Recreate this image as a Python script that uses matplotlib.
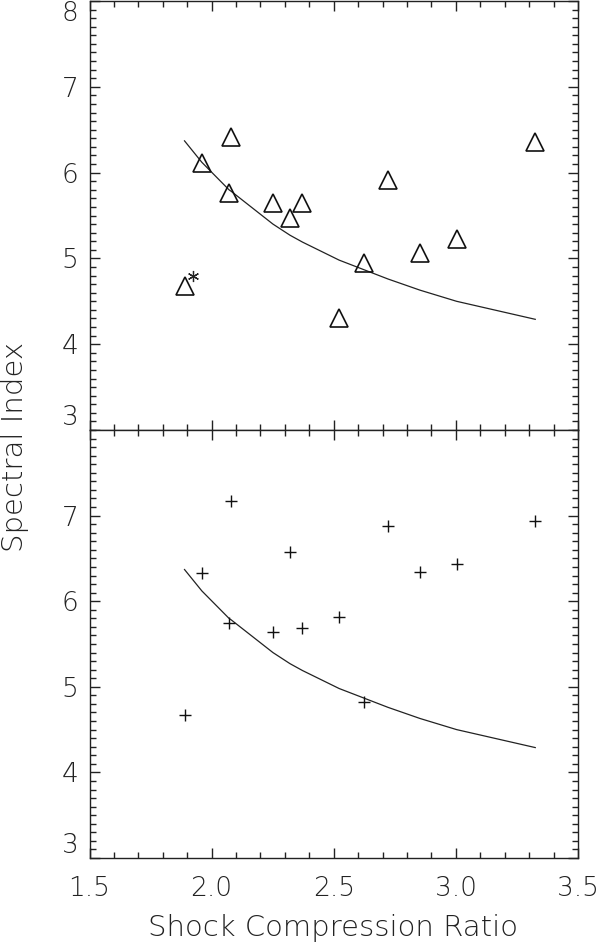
import matplotlib
matplotlib.use("Agg")
import matplotlib.pyplot as plt
from matplotlib.ticker import MultipleLocator

# Data
ratio = [1.889, 1.960, 2.081, 2.071, 2.251, 2.321, 2.372, 2.522, 2.622, 2.722, 2.853, 3.003, 3.325]
index_top = [4.68, 6.11, 6.42, 5.76, 5.65, 5.47, 5.65, 4.30, 4.95, 5.91, 5.06, 5.23, 6.36]
index_bottom = [4.67, 6.33, 7.17, 5.75, 5.64, 6.58, 5.69, 5.82, 4.82, 6.88, 6.34, 6.43, 6.94]

curve_x = [1.889, 1.960, 2.071, 2.081, 2.251, 2.321, 2.372, 2.522, 2.622, 2.722, 2.853, 3.003, 3.325]
curve_y = [6.37, 6.12, 5.80, 5.78, 5.40, 5.27, 5.19, 4.98, 4.87, 4.76, 4.63, 4.50, 4.29]

star_x, star_y = 1.925, 4.80

x_ticks = [1.5, 2.0, 2.5, 3.0, 3.5]
x_ticklabels = ["1.5", "2.0", "2.5", "3.0", "3.5"]
y_ticks_top = [3, 4, 5, 6, 7, 8]
y_ticks_bottom = [3, 4, 5, 6, 7]

plt.rcParams['font.family'] = ['DejaVu Sans']
plt.rcParams['font.weight'] = 'light'
plt.rcParams['axes.labelweight'] = 'light'
FS = 19
TXT = '#222222'

fig = plt.figure(figsize=(6.0, 9.46), dpi=100)
W, H = 600.0, 946.0
left, right = 89.5 / W, 578.0 / W
ax_top = fig.add_axes([left, 1 - 430.0 / H, right - left, (430.0 - 1.0) / H])
ax_bot = fig.add_axes([left, 1 - 858.0 / H, right - left, (858.0 - 430.0) / H])

for ax in (ax_top, ax_bot):
    ax.set_xlim(1.5, 3.5)
    ax.set_ylim(3, 8)
    ax.xaxis.set_major_locator(MultipleLocator(0.5))
    ax.xaxis.set_minor_locator(MultipleLocator(0.1))
    ax.yaxis.set_minor_locator(MultipleLocator(0.1))
    ax.tick_params(which='both', direction='in', top=True, right=True,
                   width=1.0, color='#222222', labelsize=FS, labelcolor=TXT)
    ax.tick_params(which='major', length=7.2)
    ax.tick_params(which='minor', length=4.0)
    ax.tick_params(axis='y', pad=8)
    ax.tick_params(axis='x', pad=13)
    for sp in ax.spines.values():
        sp.set_linewidth(1.0)
        sp.set_color('#222222')
    ax.plot(curve_x, curve_y, color='#222222', lw=0.9)

ax_top.plot(ratio, index_top, linestyle='none', marker='^', markersize=13,
            markerfacecolor='none', markeredgecolor='#111111', markeredgewidth=1.2)
ax_top.plot([star_x], [star_y], linestyle='none', marker=(6, 2, 0), markersize=8,
            markeredgecolor='#222222', markeredgewidth=0.9)
ax_bot.plot(ratio, index_bottom, linestyle='none', marker='+', markersize=8,
            markeredgecolor='#111111', markeredgewidth=1.0)

ax_top.set_yticks(y_ticks_top)
ax_top.set_yticklabels([str(v) for v in y_ticks_top])
ax_top.set_xticks(x_ticks)
ax_top.tick_params(axis='x', labelbottom=False)
ax_bot.set_yticks(y_ticks_bottom)
ax_bot.set_yticklabels([str(v) for v in y_ticks_bottom])
ax_bot.set_xticks(x_ticks)
ax_bot.set_xticklabels(x_ticklabels)

# end labels nudged inside like the reference
for ax in (ax_top, ax_bot):
    labs = ax.get_yticklabels()
    labs[0].set_va('bottom')
ax_top.get_yticklabels()[-1].set_va('top')

fig.text(333.0 / W, 1 - 928.0 / H, "Shock Compression Ratio", fontsize=21,
         color=TXT, ha='center', va='center', fontweight='light')
fig.text(1.0 / W, 1 - 447.0 / H, "Spectral Index", rotation=90, fontsize=21,
         color=TXT, ha='left', va='center', fontweight='light')

fig.savefig("out.png", dpi=100)
